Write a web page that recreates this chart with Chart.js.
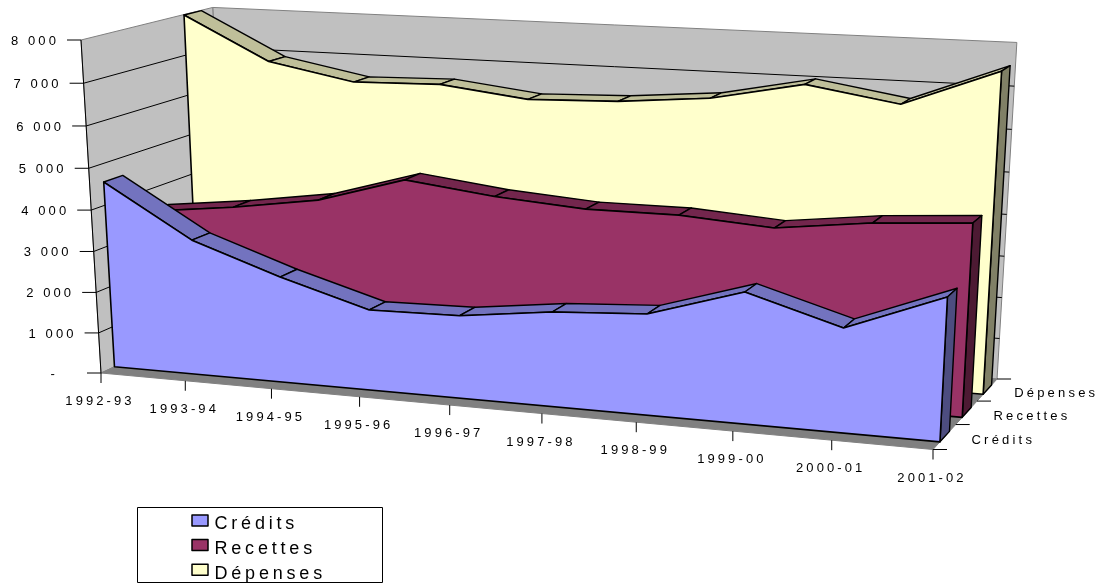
<!DOCTYPE html>
<html lang="fr">
<head>
<meta charset="UTF-8">
<title>Crédits, Recettes, Dépenses</title>
<script src="https://cdn.jsdelivr.net/npm/chart.js"></script>
<style>
    html, body { margin: 0; padding: 0; background: #fff; overflow: hidden; }
    canvas { display: block; }
</style>
</head>
<body>
<canvas id="myChart" width="1104" height="583"></canvas>
<script>
const years = ['1992-93', '1993-94', '1994-95', '1995-96', '1996-97', '1997-98', '1998-99', '1999-00', '2000-01', '2001-02'];
const credits = [4560, 3300, 2570, 1945, 1983, 2245, 2374, 3050, 2408, 3277];
const recettes = [3454, 3697, 4012, 4642, 4382, 4226, 4231, 4078, 4342, 4490];
const depenses = [7990, 6945, 6546, 6599, 6350, 6416, 6601, 7036, 6690, 7551];
const yTickLabels = ['-', '1 000', '2 000', '3 000', '4 000', '5 000', '6 000', '7 000', '8 000'];

const fontName = '"Liberation Sans", Arial, sans-serif';

// box corners on screen, (category, value, depth)
const P0 = [101, 373];
const Px = [933, 449.5];
const Py = [81, 40];
const Pz = [226, 315];
// perspective weights of each box axis
const A = 0.9019, B = 0.9577, C = 1.0872;

function project(u, v, w) {
    const den = 1 + (A - 1) * u + (B - 1) * v + (C - 1) * w;
    const axis = i => P0[i] + u * (A * Px[i] - P0[i]) + v * (B * Py[i] - P0[i]) + w * (C * Pz[i] - P0[i]);
    return [axis(0) / den, axis(1) / den];
}

function poly(ctx, pts, fill, stroke, lw) {
    ctx.beginPath();
    pts.forEach((p, i) => i ? ctx.lineTo(p[0], p[1]) : ctx.moveTo(p[0], p[1]));
    ctx.closePath();
    if (fill) { ctx.fillStyle = fill; ctx.fill(); }
    if (stroke) { ctx.strokeStyle = stroke; ctx.lineWidth = lw; ctx.stroke(); }
}

function line(ctx, a, b, color, lw) {
    ctx.beginPath();
    ctx.moveTo(a[0], a[1]);
    ctx.lineTo(b[0], b[1]);
    ctx.strokeStyle = color;
    ctx.lineWidth = lw;
    ctx.stroke();
}

function label(ctx, text, x, y, size, spacing, align) {
    ctx.font = size + 'px ' + fontName;
    ctx.letterSpacing = spacing + 'px';
    ctx.textAlign = align;
    ctx.textBaseline = 'middle';
    ctx.fillStyle = '#000';
    ctx.fillText(text, x, y);
}

const area3d = {
    id: 'area3d',
    afterDatasetsDraw(chart) {
        const ctx = chart.ctx;
        const a = chart.chartArea;
        const sx = chart.scales.x;
        const sy = chart.scales.y;
        const toU = px => (px - a.left) / a.width;
        const toV = py => (a.bottom - py) / a.height;
        const n = chart.data.datasets.length;

        ctx.save();
        ctx.lineJoin = 'round';

        // walls and floor
        poly(ctx, [project(0, 0, 1), project(0, 1, 1), project(1, 1, 1), project(1, 0, 1)], '#c0c0c0', '#808080', 1);
        poly(ctx, [project(0, 0, 0), project(0, 1, 0), project(0, 1, 1), project(0, 0, 1)], '#c0c0c0', '#808080', 1);
        poly(ctx, [project(0, 0, 0), project(1, 0, 0), project(1, 0, 1), project(0, 0, 1)], '#808080', '#808080', 1);

        // gridlines and value axis
        line(ctx, project(0, 0, 0), project(0, 1, 0), '#000', 1);
        sy.ticks.forEach((t, i) => {
            const v = toV(sy.getPixelForValue(t.value));
            const f = project(0, v, 0);
            if (i > 0 && i < sy.ticks.length - 1) {
                line(ctx, f, project(0, v, 1), '#000', 1);
                line(ctx, project(0, v, 1), project(1, v, 1), '#000', 1);
            }
            line(ctx, f, [f[0] - 14, f[1]], '#000', 1);
            // the zero dash sits further left, like in an accounting number format
            const right = f[0] - 22 - (i === 0 ? 21 : 0);
            label(ctx, yTickLabels[i], right, f[1] + 1, 13, 3.1, 'right');
        });

        // category axis
        sx.ticks.forEach((t, i) => {
            const u = toU(sx.getPixelForTick(i));
            const f = project(u, 0, 0);
            line(ctx, f, [f[0], f[1] + 10], '#000', 1);
            label(ctx, years[i], f[0] - 1, f[1] + 28.5, 13, 3.1, 'center');
        });

        // depth axis
        for (let k = 0; k <= n; k++) {
            const f = project(1, 0, k / n);
            line(ctx, f, [f[0] + 14, f[1]], '#000', 1);
        }
        chart.data.datasets.forEach((ds, k) => {
            const f = project(1, 0, (k + 0.5) / n);
            label(ctx, ds.label, f[0] + 27, f[1] + 3.5, 13, 3.2, 'left');
        });

        // series back to front, each one a ribbon with a front and a right face
        for (let k = n - 1; k >= 0; k--) {
            const ds = chart.data.datasets[k];
            const pts = chart.getDatasetMeta(k).data;
            const w0 = (k + 0.3) / n;
            const w1 = (k + 0.72) / n;
            const uv = pts.map(p => [toU(p.x), toV(p.y)]);
            const last = uv[uv.length - 1];

            for (let i = 0; i < uv.length - 1; i++) {
                poly(ctx, [project(uv[i][0], uv[i][1], w0), project(uv[i + 1][0], uv[i + 1][1], w0),
                    project(uv[i + 1][0], uv[i + 1][1], w1), project(uv[i][0], uv[i][1], w1)], ds.topColor, '#000', 1.4);
            }
            poly(ctx, [project(1, 0, w0), project(1, last[1], w0), project(1, last[1], w1), project(1, 0, w1)], ds.sideColor, '#000', 1.4);

            const front = [project(0, 0, w0)];
            uv.forEach(p => front.push(project(p[0], p[1], w0)));
            front.push(project(1, 0, w0));
            poly(ctx, front, ds.backgroundColor, '#000', 1.6);
        }

        // legend
        poly(ctx, [[137.5, 507.5], [382.5, 507.5], [382.5, 582.5], [137.5, 582.5]], '#fff', '#000', 1);
        chart.data.datasets.forEach((ds, k) => {
            const y = 515 + k * 24.6;
            poly(ctx, [[192, y], [208, y], [208, y + 11], [192, y + 11]], ds.backgroundColor, '#000', 1.5);
            label(ctx, ds.label, 214.5, y + 9.4, 18, 3.8, 'left');
        });
        ctx.restore();
    }
};

new Chart(document.getElementById('myChart').getContext('2d'), {
    type: 'line',
    data: {
        labels: years,
        datasets: [
            { label: 'Crédits', data: credits, backgroundColor: '#9999ff', topColor: '#7373bf', sideColor: '#4d4d80' },
            { label: 'Recettes', data: recettes, backgroundColor: '#993366', topColor: '#73264d', sideColor: '#4d1a33' },
            { label: 'Dépenses', data: depenses, backgroundColor: '#ffffcc', topColor: '#bfbf99', sideColor: '#808066' }
        ]
    },
    options: {
        responsive: false,
        animation: false,
        showLine: false,
        pointRadius: 0,
        layout: { padding: 0 },
        scales: {
            x: { type: 'category', display: false, offset: false },
            y: { type: 'linear', display: false, min: 0, max: 8000, ticks: { stepSize: 1000 } }
        },
        plugins: { legend: { display: false }, tooltip: { enabled: false } }
    },
    plugins: [area3d]
});
</script>
</body>
</html>
